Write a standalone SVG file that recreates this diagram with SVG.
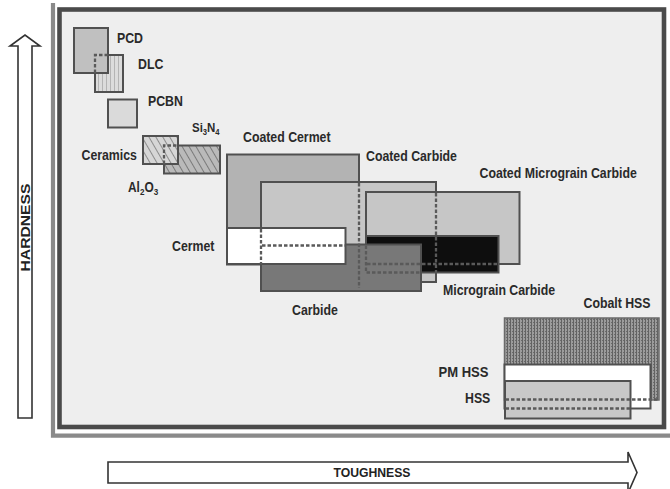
<svg xmlns="http://www.w3.org/2000/svg" width="670" height="489" viewBox="0 0 670 489">
<style>
.box{stroke:#505050;stroke-width:2}
.dash{fill:none;stroke:#5a5a5a;stroke-width:2.3;stroke-dasharray:3.5 2}
.lbl{font-family:"Liberation Sans",Arial,sans-serif;font-weight:bold;font-size:14.5px;fill:#2a2a2a}
.axis{font-family:"Liberation Sans",Arial,sans-serif;font-weight:bold;font-size:13px;fill:#222}
.arrow{fill:#fff;stroke:#333;stroke-width:1.6}
</style>
<defs>
<pattern id="vlines" width="4" height="4" patternUnits="userSpaceOnUse"><rect width="4" height="4" fill="#dcdcdc"/><rect x="2" y="0" width="1" height="4" fill="#b4b4b4"/></pattern>
<pattern id="hatchLight" width="6" height="6" patternUnits="userSpaceOnUse" patternTransform="rotate(-30)"><rect width="6" height="6" fill="#d6d6d6"/><rect x="0" y="0" width="1" height="6" fill="#8c8c8c"/></pattern>
<pattern id="hatchDark" width="6" height="6" patternUnits="userSpaceOnUse" patternTransform="rotate(-30)"><rect width="6" height="6" fill="#bababa"/><rect x="0" y="0" width="1" height="6" fill="#7a7a7a"/></pattern>
<pattern id="stipple" width="3" height="3" patternUnits="userSpaceOnUse"><rect width="3" height="3" fill="#9c9c9c"/><rect x="0" y="0" width="1" height="3" fill="#626262"/><rect x="2" y="1" width="1" height="1" fill="#6a6a6a"/></pattern>
</defs>
<rect width="670" height="489" fill="#fff"/>
<g id="frame">
<path d="M53,3 V435.7 H670" fill="none" stroke="#8a8a8a" stroke-width="4.2"/>
<rect x="59.5" y="9.5" width="604.5" height="417.5" fill="#eeeeee" stroke="#4a4a4a" stroke-width="4.6"/>
</g>
<g id="hardness-axis">
<path class="arrow" d="M18,418 V46 H10 L25,35 L40,46 H32 V418 Z"/>
<text class="axis" transform="translate(29.5 227.5) rotate(-90)" text-anchor="middle" textLength="88" lengthAdjust="spacingAndGlyphs">HARDNESS</text>
</g>
<g id="toughness-axis">
<path class="arrow" d="M108,462 H628 V452 L637,472.5 L628,493 V483 H108 Z"/>
<text class="axis" x="372" y="477" text-anchor="middle" textLength="77" lengthAdjust="spacingAndGlyphs">TOUGHNESS</text>
</g>
<g id="dlc"><rect class="box" x="95" y="55" width="28" height="37" fill="url(#vlines)"/>
<text class="lbl" transform="translate(138 69) scale(0.85 1)">DLC</text></g>
<g id="pcd"><rect class="box" x="74" y="28" width="34" height="45" fill="#c0c0c0"/>
<text class="lbl" transform="translate(117 42.5) scale(0.85 1)">PCD</text></g>
<g id="pcbn"><rect class="box" x="108" y="99.5" width="29" height="28" fill="#dadada"/>
<text class="lbl" transform="translate(148 106) scale(0.85 1)">PCBN</text></g>
<g id="si3n4"><rect class="box" x="164" y="145.5" width="56" height="28" fill="url(#hatchDark)"/>
<text class="lbl" style="font-size:13.5px" transform="translate(192 132) scale(0.85 1)">Si<tspan dy="3" style="font-size:9px">3</tspan><tspan dy="-3">N</tspan><tspan dy="3" style="font-size:9px">4</tspan></text></g>
<g id="ceramics"><rect class="box" x="143" y="136" width="35" height="28" fill="url(#hatchLight)"/>
<text class="lbl" transform="translate(81.5 160) scale(0.85 1)">Ceramics</text>
<text class="lbl" style="font-size:14px" transform="translate(128 191.5) scale(0.85 1)">Al<tspan dy="3" style="font-size:9.5px">2</tspan><tspan dy="-3">O</tspan><tspan dy="3" style="font-size:9.5px">3</tspan></text></g>
<g id="coated-cermet"><rect class="box" x="227" y="154.5" width="132" height="110" fill="#b3b3b3"/>
<text class="lbl" transform="translate(243 141.5) scale(0.85 1)">Coated Cermet</text></g>
<g id="coated-carbide"><rect class="box" x="261" y="182" width="175" height="100" fill="#c6c6c6"/>
<text class="lbl" transform="translate(366 160.5) scale(0.85 1)">Coated Carbide</text></g>
<g id="coated-micrograin-carbide"><rect class="box" x="366" y="192" width="153.5" height="72" fill="#c6c6c6"/>
<text class="lbl" transform="translate(479.5 177.5) scale(0.85 1)">Coated Micrograin Carbide</text></g>
<g id="micrograin-carbide"><rect class="box" x="366" y="236" width="132.5" height="36.5" fill="#0e0e0e"/>
<text class="lbl" transform="translate(443 295) scale(0.85 1)">Micrograin Carbide</text></g>
<g id="carbide"><rect class="box" x="261" y="244.5" width="160" height="46.5" fill="#787878"/>
<text class="lbl" transform="translate(292 314.5) scale(0.85 1)">Carbide</text></g>
<g id="cermet"><rect class="box" x="227" y="228" width="118.5" height="36" fill="#ffffff"/>
<text class="lbl" transform="translate(172 250.5) scale(0.85 1)">Cermet</text></g>
<g id="cobalt-hss"><rect x="504.5" y="318" width="154.5" height="82" fill="url(#stipple)" stroke="#6a6a6a" stroke-width="1.5"/>
<text class="lbl" transform="translate(583.5 307.5) scale(0.85 1)">Cobalt HSS</text></g>
<g id="pm-hss"><rect class="box" x="504.5" y="364.5" width="146" height="44" fill="#ffffff"/>
<text class="lbl" transform="translate(438.5 376.5) scale(0.9 1)">PM HSS</text></g>
<g id="hss"><rect class="box" x="505" y="381" width="125.5" height="37.5" fill="#c8c8c8"/>
<text class="lbl" transform="translate(465 403) scale(0.85 1)">HSS</text></g>
<g id="connectors">
<path class="dash" d="M95,73 V55 H108"/>
<path class="dash" d="M164,164 V145.5 H178"/>
<path class="dash" d="M359,183 V288"/>
<path class="dash" d="M261,229 V264"/>
<path class="dash" d="M262,245.5 H345"/>
<path class="dash" d="M366,245.5 V272.5 H421"/>
<path class="dash" d="M367,264 H498"/>
<path class="dash" d="M436,193 V272.5"/>
<path class="dash" d="M505.5,399.5 H659"/>
<path class="dash" d="M505.5,408.5 H630.5"/>
</g>
</svg>
